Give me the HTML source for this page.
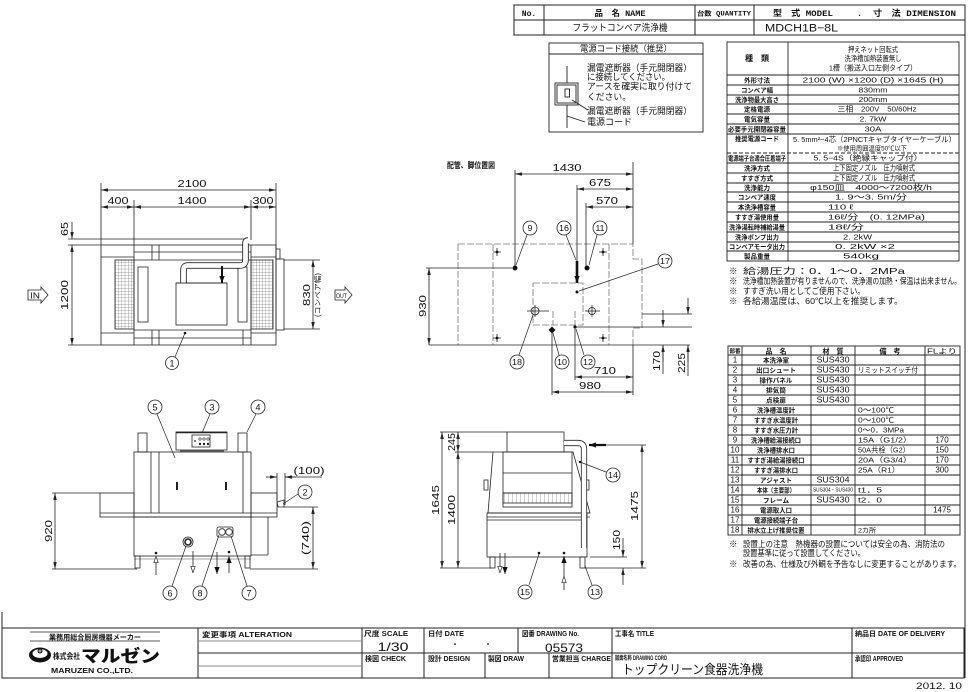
<!DOCTYPE html>
<html><head><meta charset="utf-8"><style>
html,body{margin:0;padding:0;background:#fff;}
svg{display:block;}
text{font-family:"Liberation Sans","Noto Sans CJK JP",sans-serif;fill:#111;}
.m{font-family:"Liberation Mono","Noto Sans CJK JP",monospace;font-weight:bold;}
.b{font-weight:bold;}
</style></head><body>
<svg width="969" height="692" viewBox="0 0 969 692" xmlns="http://www.w3.org/2000/svg">
<defs>
<marker id="a" viewBox="0 0 8 4" refX="8" refY="2" markerWidth="7" markerHeight="3.5" orient="auto-start-reverse" markerUnits="userSpaceOnUse"><path d="M0,0 L8,2 L0,4 Z" fill="#222"/></marker>
<marker id="f" viewBox="0 0 8 6" refX="8" refY="3" markerWidth="7" markerHeight="6" orient="auto" markerUnits="userSpaceOnUse"><path d="M0,0 L8,3 L0,6 Z" fill="#111"/></marker>
<marker id="h" viewBox="0 0 8 6" refX="8" refY="3" markerWidth="7" markerHeight="6" orient="auto" markerUnits="userSpaceOnUse"><path d="M0.5,0.5 L7.5,3 L0.5,5.5 Z" fill="#fff" stroke="#222" stroke-width="0.8"/></marker>
<pattern id="g" width="3.2" height="3.2" patternUnits="userSpaceOnUse"><path d="M0,0 H3.2 M0,0 V3.2" stroke="#444" stroke-width="0.5" fill="none"/></pattern>
<pattern id="g2" width="4" height="10" patternUnits="userSpaceOnUse"><path d="M0,0 V10" stroke="#444" stroke-width="0.5" fill="none"/></pattern>
</defs>

<!-- ========== FRAME ========== -->
<g fill="none" stroke="#222" stroke-width="1">
<line x1="965" y1="5" x2="965" y2="678"/>
<line x1="2" y1="612" x2="2" y2="678"/>
</g>

<!-- ========== HEADER ========== -->
<g fill="none" stroke="#222" stroke-width="1">
<rect x="514" y="5" width="451" height="30"/>
<line x1="514" y1="20" x2="965" y2="20"/>
<line x1="544" y1="5" x2="544" y2="35"/>
<line x1="695" y1="5" x2="695" y2="35"/>
<line x1="754" y1="5" x2="754" y2="35"/>
</g>
<text class="m" x="529" y="16" font-size="8" text-anchor="middle">No.</text>
<text class="m" x="620" y="16" font-size="8.5" text-anchor="middle">品　名 NAME</text>
<text class="m" x="724" y="15.5" font-size="6.5" text-anchor="middle" textLength="54" lengthAdjust="spacingAndGlyphs">台数 QUANTITY</text>
<text class="m" x="773" y="16" font-size="8.5" textLength="60" lengthAdjust="spacingAndGlyphs">型　式 MODEL</text>
<text class="m" x="857" y="16" font-size="8.5">.</text>
<text class="m" x="873" y="16" font-size="8.5" textLength="83" lengthAdjust="spacingAndGlyphs">寸　法 DIMENSION</text>
<text x="620" y="31" font-size="9.5" text-anchor="middle" textLength="95" lengthAdjust="spacingAndGlyphs">フラットコンベア洗浄機</text>
<text x="765" y="31.5" font-size="11" textLength="73" lengthAdjust="spacingAndGlyphs">MDCH1B−8L</text>

<!-- ========== POWER CORD BOX ========== -->
<g fill="none" stroke="#222" stroke-width="0.9">
<rect x="549" y="43" width="154" height="89"/>
<line x1="549" y1="54" x2="703" y2="54"/>
<line x1="567" y1="66" x2="567" y2="128"/>
<rect x="555" y="83" width="23" height="22" fill="#fff"/>
<rect x="557" y="85" width="19" height="18"/>
<rect x="565" y="89" width="4.5" height="8"/>
<line x1="572" y1="100" x2="588" y2="110"/>
<line x1="567" y1="116" x2="585" y2="122"/>
</g>
<text x="626" y="51.5" font-size="8.5" text-anchor="middle" textLength="92" lengthAdjust="spacingAndGlyphs">電源コード接続（推奨）</text>
<text x="587" y="71" font-size="9" textLength="105" lengthAdjust="spacingAndGlyphs">漏電遮断器（手元開閉器）</text>
<text x="587" y="80" font-size="9" textLength="83" lengthAdjust="spacingAndGlyphs">に接続してください。</text>
<text x="587" y="89.5" font-size="9" textLength="105" lengthAdjust="spacingAndGlyphs">アースを確実に取り付けて</text>
<text x="587" y="100" font-size="9" textLength="44" lengthAdjust="spacingAndGlyphs">ください。</text>
<text x="587" y="114" font-size="9" textLength="105" lengthAdjust="spacingAndGlyphs">漏電遮断器（手元開閉器）</text>
<text x="587" y="125" font-size="9" textLength="45" lengthAdjust="spacingAndGlyphs">電源コード</text>

<!-- ========== SPEC TABLE ========== -->
<g fill="none" stroke="#222" stroke-width="0.9">
<rect x="727" y="42" width="232" height="219"/>
<line x1="788" y1="42" x2="788" y2="261"/>
<line x1="727" y1="75" x2="959" y2="75"/>
<line x1="727" y1="85" x2="959" y2="85"/>
<line x1="727" y1="95" x2="959" y2="95"/>
<line x1="727" y1="104" x2="959" y2="104"/>
<line x1="727" y1="114" x2="959" y2="114"/>
<line x1="727" y1="124" x2="959" y2="124"/>
<line x1="727" y1="134" x2="959" y2="134"/>
<line x1="727" y1="153" x2="959" y2="153" stroke-dasharray="4,2"/>
<line x1="727" y1="163" x2="959" y2="163"/>
<line x1="727" y1="173" x2="959" y2="173"/>
<line x1="727" y1="183" x2="959" y2="183"/>
<line x1="727" y1="192" x2="959" y2="192"/>
<line x1="727" y1="202" x2="959" y2="202"/>
<line x1="727" y1="212" x2="959" y2="212"/>
<line x1="727" y1="222" x2="959" y2="222"/>
<line x1="727" y1="232" x2="959" y2="232"/>
<line x1="727" y1="242" x2="959" y2="242"/>
<line x1="727" y1="251" x2="959" y2="251"/>
</g>
<g font-size="6.5" font-weight="bold" text-anchor="middle">
<text x="757" y="61" font-size="8">種　類</text>
<text x="757" y="82.5" textLength="26" lengthAdjust="spacingAndGlyphs">外形寸法</text>
<text x="757" y="92.5" textLength="32" lengthAdjust="spacingAndGlyphs">コンベア幅</text>
<text x="757" y="102" textLength="44" lengthAdjust="spacingAndGlyphs">洗浄物最大高さ</text>
<text x="757" y="111.5" textLength="26" lengthAdjust="spacingAndGlyphs">定格電源</text>
<text x="757" y="121.5" textLength="26" lengthAdjust="spacingAndGlyphs">電気容量</text>
<text x="757" y="131.5" textLength="58" lengthAdjust="spacingAndGlyphs">必要手元開閉器容量</text>
<text x="757" y="141" textLength="44" lengthAdjust="spacingAndGlyphs">推奨電源コード</text>
<text x="757" y="160.5" textLength="58" lengthAdjust="spacingAndGlyphs">電源端子台適合圧着端子</text>
<text x="757" y="170.5" textLength="26" lengthAdjust="spacingAndGlyphs">洗浄方式</text>
<text x="757" y="180.5" textLength="32" lengthAdjust="spacingAndGlyphs">すすぎ方式</text>
<text x="757" y="190" textLength="26" lengthAdjust="spacingAndGlyphs">洗浄能力</text>
<text x="757" y="199.5" textLength="38" lengthAdjust="spacingAndGlyphs">コンベア速度</text>
<text x="757" y="209.5" textLength="38" lengthAdjust="spacingAndGlyphs">本洗浄槽容量</text>
<text x="757" y="219.5" textLength="44" lengthAdjust="spacingAndGlyphs">すすぎ湯使用量</text>
<text x="757" y="229.5" textLength="56" lengthAdjust="spacingAndGlyphs">洗浄湯転時補給湯量</text>
<text x="757" y="239.5" textLength="44" lengthAdjust="spacingAndGlyphs">洗浄ポンプ出力</text>
<text x="757" y="249" textLength="56" lengthAdjust="spacingAndGlyphs">コンベアモータ出力</text>
<text x="757" y="258.5" textLength="26" lengthAdjust="spacingAndGlyphs">製品重量</text>
</g>
<g font-size="7.5">
<text x="873" y="52" text-anchor="middle" textLength="50" lengthAdjust="spacingAndGlyphs">押えネット回転式</text>
<text x="873" y="61" text-anchor="middle" textLength="57" lengthAdjust="spacingAndGlyphs">洗浄槽加熱装置無し</text>
<text x="873" y="70.5" text-anchor="middle" textLength="88" lengthAdjust="spacingAndGlyphs">1槽（搬送入口左側タイプ）</text>
<text x="873" y="82.5" text-anchor="middle" textLength="141" lengthAdjust="spacingAndGlyphs">2100 (W) ×1200 (D) ×1645 (H)</text>
<text x="873" y="92.5" text-anchor="middle" textLength="29" lengthAdjust="spacingAndGlyphs">830mm</text>
<text x="873" y="102" text-anchor="middle" textLength="29" lengthAdjust="spacingAndGlyphs">200mm</text>
<text x="877" y="111.5" text-anchor="middle" textLength="79" lengthAdjust="spacingAndGlyphs">三相　200V　50/60Hz</text>
<text x="873" y="121.5" text-anchor="middle" textLength="27" lengthAdjust="spacingAndGlyphs">2. 7kW</text>
<text x="873" y="131.5" text-anchor="middle" textLength="17" lengthAdjust="spacingAndGlyphs">30A</text>
<text x="793" y="142" textLength="163" lengthAdjust="spacingAndGlyphs">5. 5mm²−4芯（2PNCTキャブタイヤーケーブル）</text>
<text x="872" y="150.5" text-anchor="middle" font-size="6.5" textLength="70" lengthAdjust="spacingAndGlyphs">※使用周囲温度50℃以下</text>
<text x="868" y="160.5" text-anchor="middle" textLength="109" lengthAdjust="spacingAndGlyphs">5. 5−4S（絶縁キャップ付）</text>
<text x="874" y="170.5" text-anchor="middle" textLength="82" lengthAdjust="spacingAndGlyphs">上下固定ノズル　圧力噴射式</text>
<text x="874" y="180.5" text-anchor="middle" textLength="82" lengthAdjust="spacingAndGlyphs">上下固定ノズル　圧力噴射式</text>
<text x="871" y="190" text-anchor="middle" textLength="122" lengthAdjust="spacingAndGlyphs">φ150皿　4000～7200枚/h</text>
<text x="871" y="199.5" text-anchor="middle" textLength="72" lengthAdjust="spacingAndGlyphs">1. 9～3. 5m/分</text>
<text x="828" y="209.5" textLength="25" lengthAdjust="spacingAndGlyphs">110 ℓ</text>
<text x="828" y="219.5" textLength="97" lengthAdjust="spacingAndGlyphs">16ℓ/分　(0. 12MPa)</text>
<text x="828" y="229.5" textLength="36" lengthAdjust="spacingAndGlyphs">18ℓ/分</text>
<text x="843" y="239.5" textLength="29" lengthAdjust="spacingAndGlyphs">2. 2kW</text>
<text x="835" y="249" textLength="60" lengthAdjust="spacingAndGlyphs">0. 2kW ×2</text>
<text x="843" y="258.5" textLength="36" lengthAdjust="spacingAndGlyphs">540kg</text>
</g>
<g font-size="8.5">
<text x="729" y="274">※</text><text x="743" y="274" textLength="162" lengthAdjust="spacingAndGlyphs">給湯圧力：0．1～0．2MPa</text>
<text x="729" y="284">※</text><text x="743" y="284" textLength="218" lengthAdjust="spacingAndGlyphs">洗浄槽加熱装置が有りませんので、洗浄湯の加熱・保温は出来ません。</text>
<text x="729" y="294">※</text><text x="743" y="294" textLength="122" lengthAdjust="spacingAndGlyphs">すすぎ洗い用としてご使用下さい。</text>
<text x="729" y="304">※</text><text x="743" y="304" textLength="160" lengthAdjust="spacingAndGlyphs">各給湯温度は、60℃以上を推奨します。</text>
</g>

<!-- ========== PARTS TABLE ========== -->
<g fill="none" stroke="#222" stroke-width="0.9">
<rect x="728" y="346" width="232" height="189"/>
<line x1="742" y1="346" x2="742" y2="535"/>
<line x1="811" y1="346" x2="811" y2="535"/>
<line x1="855" y1="346" x2="855" y2="535"/>
<line x1="925" y1="346" x2="925" y2="535"/>
<line x1="728" y1="355" x2="960" y2="355"/>
<line x1="728" y1="365" x2="960" y2="365"/>
<line x1="728" y1="375" x2="960" y2="375"/>
<line x1="728" y1="385" x2="960" y2="385"/>
<line x1="728" y1="395" x2="960" y2="395"/>
<line x1="728" y1="405" x2="960" y2="405"/>
<line x1="728" y1="415" x2="960" y2="415"/>
<line x1="728" y1="425" x2="960" y2="425"/>
<line x1="728" y1="435" x2="960" y2="435"/>
<line x1="728" y1="445" x2="960" y2="445"/>
<line x1="728" y1="455" x2="960" y2="455"/>
<line x1="728" y1="465" x2="960" y2="465"/>
<line x1="728" y1="475" x2="960" y2="475"/>
<line x1="728" y1="485" x2="960" y2="485"/>
<line x1="728" y1="495" x2="960" y2="495"/>
<line x1="728" y1="505" x2="960" y2="505"/>
<line x1="728" y1="515" x2="960" y2="515"/>
<line x1="728" y1="525" x2="960" y2="525"/>
</g>
<g font-size="7" text-anchor="middle">
<text x="735" y="353" font-size="5.5" font-weight="bold">部番</text>
<text x="776" y="353.5" font-weight="bold">品　名</text>
<text x="833" y="353.5" font-weight="bold">材　質</text>
<text x="890" y="353.5" font-weight="bold">備　考</text>
<text x="942" y="353.5" textLength="30" lengthAdjust="spacingAndGlyphs">FLより</text>
</g>
<g font-size="8" text-anchor="middle">
<text x="735" y="362.5">1</text><text x="735" y="372.5">2</text><text x="735" y="382.5">3</text><text x="735" y="392.5">4</text><text x="735" y="402.5">5</text><text x="735" y="412.5">6</text><text x="735" y="422.5">7</text><text x="735" y="432.5">8</text><text x="735" y="442.5">9</text><text x="735" y="452.5">10</text><text x="735" y="462.5">11</text><text x="735" y="472.5">12</text><text x="735" y="482.5">13</text><text x="735" y="492.5">14</text><text x="735" y="502.5">15</text><text x="735" y="512.5">16</text><text x="735" y="522.5">17</text><text x="735" y="532.5">18</text>
</g>
<g font-size="6.5" font-weight="bold" text-anchor="middle">
<text x="776" y="362.5" textLength="26" lengthAdjust="spacingAndGlyphs">本洗浄室</text>
<text x="776" y="372.5" textLength="40" lengthAdjust="spacingAndGlyphs">出口シュート</text>
<text x="776" y="382.5" textLength="33" lengthAdjust="spacingAndGlyphs">操作パネル</text>
<text x="776" y="392.5" textLength="20" lengthAdjust="spacingAndGlyphs">排気筒</text>
<text x="776" y="402.5" textLength="20" lengthAdjust="spacingAndGlyphs">点検扉</text>
<text x="776" y="412.5" textLength="38" lengthAdjust="spacingAndGlyphs">洗浄槽温度計</text>
<text x="776" y="422.5" textLength="44" lengthAdjust="spacingAndGlyphs">すすぎ水温度計</text>
<text x="776" y="432.5" textLength="44" lengthAdjust="spacingAndGlyphs">すすぎ水圧力計</text>
<text x="776" y="442.5" textLength="50" lengthAdjust="spacingAndGlyphs">洗浄槽給湯接続口</text>
<text x="776" y="452.5" textLength="38" lengthAdjust="spacingAndGlyphs">洗浄槽排水口</text>
<text x="776" y="462.5" textLength="57" lengthAdjust="spacingAndGlyphs">すすぎ湯給湯接続口</text>
<text x="776" y="472.5" textLength="44" lengthAdjust="spacingAndGlyphs">すすぎ湯排水口</text>
<text x="776" y="482.5" textLength="32" lengthAdjust="spacingAndGlyphs">アジャスト</text>
<text x="776" y="492.5" textLength="38" lengthAdjust="spacingAndGlyphs">本体（主要部）</text>
<text x="776" y="502.5" textLength="26" lengthAdjust="spacingAndGlyphs">フレーム</text>
<text x="776" y="512.5" textLength="32" lengthAdjust="spacingAndGlyphs">電源取入口</text>
<text x="776" y="522.5" textLength="44" lengthAdjust="spacingAndGlyphs">電源接続端子台</text>
<text x="776" y="532.5" textLength="57" lengthAdjust="spacingAndGlyphs">排水立上げ推奨位置</text>
</g>
<g font-size="8" text-anchor="middle">
<text x="833" y="362.5" textLength="33" lengthAdjust="spacingAndGlyphs">SUS430</text>
<text x="833" y="372.5" textLength="33" lengthAdjust="spacingAndGlyphs">SUS430</text>
<text x="833" y="382.5" textLength="33" lengthAdjust="spacingAndGlyphs">SUS430</text>
<text x="833" y="392.5" textLength="33" lengthAdjust="spacingAndGlyphs">SUS430</text>
<text x="833" y="402.5" textLength="33" lengthAdjust="spacingAndGlyphs">SUS430</text>
<text x="833" y="482.5" textLength="33" lengthAdjust="spacingAndGlyphs">SUS304</text>
<text x="833" y="491.5" font-size="5" textLength="40" lengthAdjust="spacingAndGlyphs">SUS304・SUS430</text>
<text x="833" y="502.5" textLength="33" lengthAdjust="spacingAndGlyphs">SUS430</text>
</g>
<g font-size="7.5">
<text x="858" y="372.5" textLength="60" lengthAdjust="spacingAndGlyphs">リミットスイッチ付</text>
<text x="858" y="412.5" textLength="36" lengthAdjust="spacingAndGlyphs">0～100℃</text>
<text x="858" y="422.5" textLength="36" lengthAdjust="spacingAndGlyphs">0～100℃</text>
<text x="858" y="432.5" textLength="46" lengthAdjust="spacingAndGlyphs">0～0．3MPa</text>
<text x="858" y="442.5" textLength="54" lengthAdjust="spacingAndGlyphs">15A（G1/2）</text>
<text x="858" y="452.5" textLength="52" lengthAdjust="spacingAndGlyphs">50A共栓（G2）</text>
<text x="858" y="462.5" textLength="54" lengthAdjust="spacingAndGlyphs">20A（G3/4）</text>
<text x="858" y="472.5" textLength="42" lengthAdjust="spacingAndGlyphs">25A（R1）</text>
<text x="858" y="492.5" textLength="24" lengthAdjust="spacingAndGlyphs">t1．5</text>
<text x="858" y="502.5" textLength="24" lengthAdjust="spacingAndGlyphs">t2．0</text>
<text x="858" y="532.5" font-size="6.5" textLength="18" lengthAdjust="spacingAndGlyphs">2カ所</text>
</g>
<g font-size="8" text-anchor="middle">
<text x="942" y="442.5">170</text><text x="942" y="452.5">150</text><text x="942" y="462.5">170</text><text x="942" y="472.5">300</text><text x="942" y="512.5">1475</text>
</g>
<g font-size="8.5">
<text x="729" y="547">※</text><text x="743" y="547" textLength="202" lengthAdjust="spacingAndGlyphs">設置上の注意　熱機器の設置については安全の為、消防法の</text>
<text x="743" y="556" textLength="122" lengthAdjust="spacingAndGlyphs">設置基準に従って設置してください。</text>
<text x="729" y="567">※</text><text x="743" y="567" textLength="218" lengthAdjust="spacingAndGlyphs">改善の為、仕様及び外観を予告なしに変更することがあります。</text>
</g>

<!-- ========== FIG A : TOP VIEW ========== -->
<g fill="none" stroke="#222" stroke-width="0.8">
<line x1="101" y1="190" x2="276" y2="190" marker-start="url(#a)" marker-end="url(#a)"/>
<line x1="101" y1="207" x2="134" y2="207" marker-start="url(#a)" marker-end="url(#a)"/>
<line x1="134" y1="207" x2="251" y2="207" marker-start="url(#a)" marker-end="url(#a)"/>
<line x1="251" y1="207" x2="276" y2="207" marker-start="url(#a)" marker-end="url(#a)"/>
<line x1="101" y1="183" x2="101" y2="245"/>
<line x1="276" y1="183" x2="276" y2="249"/>
<line x1="134" y1="200" x2="134" y2="245"/>
<line x1="251" y1="200" x2="251" y2="240"/>
<line x1="68" y1="239" x2="246" y2="239"/>
<line x1="68" y1="245" x2="101" y2="245"/>
<line x1="68" y1="345" x2="101" y2="345"/>
<line x1="72" y1="222" x2="72" y2="239" marker-end="url(#a)"/>
<line x1="72" y1="245" x2="72" y2="345" marker-start="url(#a)" marker-end="url(#a)"/>
<rect x="101" y="245" width="175" height="100"/>
<line x1="134" y1="245" x2="134" y2="345"/>
<line x1="251" y1="245" x2="251" y2="345"/>
<line x1="134" y1="252" x2="251" y2="252"/>
<line x1="134" y1="260" x2="251" y2="260"/>
<line x1="134" y1="330" x2="251" y2="330"/>
<line x1="134" y1="338" x2="251" y2="338"/>
<line x1="152" y1="245" x2="152" y2="260"/><line x1="159" y1="245" x2="159" y2="260"/><line x1="243" y1="245" x2="243" y2="260"/>
<line x1="152" y1="330" x2="152" y2="345"/><line x1="159" y1="330" x2="159" y2="345"/><line x1="243" y1="330" x2="243" y2="345"/>
<line x1="101" y1="257" x2="134" y2="257"/>
<line x1="101" y1="333" x2="134" y2="333"/>
<line x1="251" y1="257" x2="276" y2="257"/>
<line x1="251" y1="333" x2="276" y2="333"/>
<rect x="276" y="249" width="4" height="10"/>
<rect x="276" y="259" width="8" height="71"/>
<rect x="115" y="260" width="19" height="69" fill="url(#g)"/>
<rect x="251" y="260" width="22" height="69" fill="url(#g)"/>
<rect x="138" y="267" width="10" height="55"/>
<rect x="238" y="267" width="9" height="55"/>
<rect x="176" y="283" width="51" height="42" fill="#fff"/>
</g>
<path d="M183.5,283 V270 Q183.5,265.5 188,265.5 H240 Q245.5,265.5 245.5,260 V243 Q245.5,240.5 248,240.5" fill="none" stroke="#222" stroke-width="6.5"/>
<path d="M183.5,283 V270 Q183.5,265.5 188,265.5 H240 Q245.5,265.5 245.5,260 V243 Q245.5,240.5 248,240.5" fill="none" stroke="#fff" stroke-width="4.8"/>
<line x1="176" y1="283" x2="227" y2="283" stroke="#222" stroke-width="0.8"/>
<line x1="222" y1="266" x2="222" y2="283" stroke="#111" stroke-width="2" marker-end="url(#f)"/>
<circle cx="185" cy="333" r="1.3" fill="#111"/>
<line x1="185" y1="333" x2="175" y2="357" stroke="#222" stroke-width="0.7"/>
<circle cx="172" cy="363" r="6.5" fill="#fff" stroke="#222" stroke-width="0.8"/>
<text x="172" y="366.5" font-size="9" text-anchor="middle">1</text>
<path d="M28,290 H41 V287 L48,295 L41,303 V300 H28 Z" fill="none" stroke="#222" stroke-width="0.8"/>
<text x="30" y="298.5" font-size="8" textLength="10" lengthAdjust="spacingAndGlyphs">IN</text>
<path d="M335,290 H345 V287 L352,295 L345,303 V300 H335 Z" fill="none" stroke="#222" stroke-width="0.8"/>
<text x="336" y="298" font-size="6.5" textLength="11" lengthAdjust="spacingAndGlyphs">OUT</text>
<g fill="none" stroke="#222" stroke-width="0.8">
<line x1="284" y1="260" x2="320" y2="260"/>
<line x1="284" y1="329" x2="320" y2="329"/>
<line x1="313" y1="260" x2="313" y2="329" marker-start="url(#a)" marker-end="url(#a)"/>
</g>
<g font-size="10.5" text-anchor="middle">
<text x="192" y="187" textLength="29" lengthAdjust="spacingAndGlyphs">2100</text>
<text x="118" y="204" textLength="21" lengthAdjust="spacingAndGlyphs">400</text>
<text x="192" y="204" textLength="29" lengthAdjust="spacingAndGlyphs">1400</text>
<text x="263" y="204" textLength="21" lengthAdjust="spacingAndGlyphs">300</text>
<text transform="translate(68,229) rotate(-90)" textLength="14" lengthAdjust="spacingAndGlyphs">65</text>
<text transform="translate(68,295) rotate(-90)" textLength="30" lengthAdjust="spacingAndGlyphs">1200</text>
<text transform="translate(310,295) rotate(-90)" textLength="22" lengthAdjust="spacingAndGlyphs">830</text>
<text transform="translate(320,295) rotate(-90)" font-size="7" textLength="44" lengthAdjust="spacingAndGlyphs">(コンベア幅)</text>
</g>

<!-- ========== FIG B : FRONT ELEVATION ========== -->
<g fill="none" stroke="#222" stroke-width="0.8">
<rect x="176" y="432" width="51" height="18"/>
<line x1="176" y1="432.5" x2="227" y2="432.5" stroke-width="1.6"/>
<rect x="192" y="435" width="18" height="12"/>
<line x1="180" y1="451" x2="224" y2="451"/>
<rect x="138" y="433" width="9" height="19"/>
<rect x="238" y="433" width="9" height="19"/>
<rect x="134" y="452" width="117" height="65"/>
<line x1="151" y1="452" x2="151" y2="513"/>
<line x1="159" y1="452" x2="159" y2="513"/>
<line x1="243" y1="452" x2="243" y2="513"/>
<rect x="100" y="493" width="34" height="24"/>
<rect x="251" y="493" width="26" height="24"/>
<line x1="100" y1="513" x2="277" y2="513"/>
<rect x="134" y="517" width="117" height="39"/>
<line x1="268" y1="517" x2="268" y2="555"/>
<line x1="251" y1="555" x2="268" y2="555"/>
<line x1="134" y1="559" x2="251" y2="559" stroke="#888"/>
<path d="M277,502 L284,500 L284,507 L278,507 Z"/>
<rect x="135" y="556" width="5" height="12"/>
<rect x="245" y="556" width="5" height="12"/>
<circle cx="188" cy="542" r="5"/>
<circle cx="188" cy="542" r="3" stroke-width="1.6"/>
<rect x="217" y="527" width="16" height="10" rx="2"/>
<circle cx="222" cy="532" r="3.3"/>
<circle cx="229" cy="532" r="3.3"/>
<line x1="55" y1="493" x2="55" y2="569" marker-start="url(#a)" marker-end="url(#a)"/>
<line x1="52" y1="493" x2="100" y2="493"/>
<line x1="52" y1="569" x2="137" y2="569"/>
<line x1="313" y1="507" x2="313" y2="569" marker-start="url(#a)" marker-end="url(#a)"/>
<line x1="283" y1="507" x2="318" y2="507"/>
<line x1="250" y1="569" x2="318" y2="569"/>
<line x1="277" y1="473" x2="277" y2="500"/>
<line x1="285" y1="473" x2="285" y2="505"/>
<line x1="266" y1="477" x2="277" y2="477" marker-end="url(#a)"/>
<line x1="296" y1="477" x2="285" y2="477" marker-end="url(#a)"/>
<line x1="285" y1="477" x2="322" y2="477"/>
</g>
<rect x="176" y="482" width="2" height="8" fill="#222"/>
<rect x="225" y="482" width="2" height="8" fill="#222"/>
<g fill="#222">
<circle cx="195" cy="441" r="0.9"/>
<circle cx="200" cy="439" r="1.2" fill="none" stroke="#222" stroke-width="0.6"/><circle cx="204" cy="439" r="1.2" fill="none" stroke="#222" stroke-width="0.6"/><circle cx="208" cy="439" r="1.2" fill="none" stroke="#222" stroke-width="0.6"/>
<circle cx="200" cy="444" r="1.2"/><circle cx="204" cy="444" r="1.2"/><circle cx="208" cy="444" r="1.2"/>
</g>
<g stroke="#222" stroke-width="0.8" fill="none">
<line x1="156" y1="575" x2="156" y2="556" marker-end="url(#h)"/>
<line x1="193" y1="551" x2="193" y2="573" marker-end="url(#h)"/>
<line x1="217" y1="552" x2="217" y2="574" marker-end="url(#f)"/>
<line x1="229" y1="573" x2="229" y2="556" marker-end="url(#f)"/>
</g>
<circle cx="156" cy="553" r="1.3" fill="#111"/>
<circle cx="229" cy="552" r="1.3" fill="#111"/>
<g stroke="#222" stroke-width="0.7">
<line x1="157" y1="414" x2="175" y2="458"/>
<line x1="210" y1="414" x2="202" y2="433"/>
<line x1="256" y1="414" x2="247" y2="432"/>
<line x1="298" y1="494" x2="283" y2="504"/>
<line x1="172" y1="586" x2="186" y2="546"/>
<line x1="202" y1="586" x2="219" y2="535"/>
<line x1="247" y1="586" x2="231" y2="536"/>
</g>
<g fill="#fff" stroke="#222" stroke-width="0.8">
<circle cx="155" cy="407" r="7"/><circle cx="212" cy="407" r="7"/><circle cx="258" cy="407" r="7"/>
<circle cx="305" cy="492" r="7"/>
<circle cx="170" cy="593" r="7"/><circle cx="200" cy="593" r="7"/><circle cx="249" cy="593" r="7"/>
</g>
<g font-size="9" text-anchor="middle">
<text x="155" y="410.5">5</text><text x="212" y="410.5">3</text><text x="258" y="410.5">4</text>
<text x="305" y="495.5">2</text>
<text x="170" y="596.5">6</text><text x="200" y="596.5">8</text><text x="249" y="596.5">7</text>
</g>
<g font-size="10.5" text-anchor="middle">
<text transform="translate(52,531) rotate(-90)" textLength="22" lengthAdjust="spacingAndGlyphs">920</text>
<text transform="translate(309,538) rotate(-90)" textLength="34" lengthAdjust="spacingAndGlyphs">(740)</text>
<text x="309" y="474" textLength="31" lengthAdjust="spacingAndGlyphs">(100)</text>
</g>

<!-- ========== FIG C : PIPING / LEG POSITION ========== -->
<text x="447" y="168" font-size="8" font-weight="bold" textLength="48" lengthAdjust="spacingAndGlyphs">配管、脚位置図</text>
<g fill="none" stroke="#777" stroke-width="0.8" stroke-dasharray="7,2">
<path d="M458,244 H633 V259 H642 V328 H633 V345"/>
<line x1="458" y1="244" x2="458" y2="345"/>
<line x1="493" y1="244" x2="493" y2="345"/>
<line x1="609" y1="244" x2="609" y2="345"/>
<rect x="533" y="283" width="50" height="42"/>
<line x1="553" y1="311" x2="553" y2="325"/>
<line x1="575" y1="311" x2="575" y2="325"/>
</g>
<g fill="none" stroke="#222" stroke-width="0.8">
<line x1="429" y1="345" x2="690" y2="345"/>
<line x1="515" y1="170" x2="515" y2="268"/>
<line x1="577" y1="185" x2="577" y2="262"/>
<line x1="586" y1="203" x2="586" y2="268"/>
<line x1="633" y1="162" x2="633" y2="244"/>
<line x1="515" y1="174" x2="633" y2="174" marker-start="url(#a)" marker-end="url(#a)"/>
<line x1="577" y1="189" x2="633" y2="189" marker-start="url(#a)" marker-end="url(#a)"/>
<line x1="586" y1="207" x2="633" y2="207" marker-start="url(#a)" marker-end="url(#a)"/>
<line x1="426" y1="268" x2="512" y2="268"/>
<line x1="429" y1="268" x2="429" y2="345" marker-start="url(#a)" marker-end="url(#a)"/>
<line x1="575" y1="327" x2="692" y2="327"/>
<line x1="642" y1="314" x2="692" y2="314"/>
<line x1="663" y1="310" x2="663" y2="327" marker-end="url(#a)"/>
<line x1="663" y1="362" x2="663" y2="345" marker-end="url(#a)"/>
<line x1="663" y1="345" x2="663" y2="374"/>
<line x1="688" y1="298" x2="688" y2="314" marker-end="url(#a)"/>
<line x1="688" y1="362" x2="688" y2="345" marker-end="url(#a)"/>
<line x1="688" y1="345" x2="688" y2="376"/>
<line x1="633" y1="345" x2="633" y2="395"/>
<line x1="575" y1="329" x2="575" y2="380"/>
<line x1="552" y1="333" x2="552" y2="395"/>
<line x1="575" y1="377" x2="633" y2="377" marker-start="url(#a)" marker-end="url(#a)"/>
<line x1="552" y1="392" x2="633" y2="392" marker-start="url(#a)" marker-end="url(#a)"/>
<path d="M493,252 H501 M497,248 V256 M599,252 H607 M603,248 V256 M493,338 H501 M497,334 V342 M599,338 H607 M603,334 V342"/>
<circle cx="535" cy="311" r="4"/>
<line x1="527" y1="311" x2="549" y2="311"/>
<line x1="535" y1="305" x2="535" y2="317"/>
<circle cx="592" cy="311" r="3.5"/>
<line x1="585" y1="311" x2="600" y2="311"/>
<line x1="592" y1="305" x2="592" y2="317"/>
</g>
<g fill="#111">
<circle cx="497" cy="252" r="1.4"/><circle cx="603" cy="252" r="1.4"/><circle cx="497" cy="338" r="1.4"/><circle cx="603" cy="338" r="1.4"/>
<circle cx="515" cy="268" r="2.5"/><circle cx="587" cy="268" r="2.5"/>
<circle cx="577" cy="292" r="1.5"/><circle cx="575" cy="327" r="1.6"/>
<rect x="549.5" y="327.5" width="5" height="5" transform="rotate(45 552 330)"/>
</g>
<line x1="577" y1="261" x2="577" y2="283" stroke="#111" stroke-width="2.6" marker-end="url(#f)"/>
<g stroke="#222" stroke-width="0.7">
<line x1="527" y1="235" x2="516" y2="265"/>
<line x1="566" y1="235" x2="576" y2="260"/>
<line x1="597" y1="235" x2="589" y2="265"/>
<line x1="658" y1="264" x2="579" y2="291"/>
<line x1="519" y1="355" x2="533" y2="315"/>
<line x1="559" y1="355" x2="553" y2="333"/>
<line x1="584" y1="355" x2="576" y2="329"/>
</g>
<g fill="#fff" stroke="#222" stroke-width="0.8">
<circle cx="530" cy="228" r="7"/><circle cx="564" cy="228" r="7"/><circle cx="600" cy="228" r="7"/>
<circle cx="665" cy="261" r="7"/>
<circle cx="517" cy="362" r="7"/><circle cx="562" cy="362" r="7"/><circle cx="588" cy="362" r="7"/>
</g>
<g font-size="8.5" text-anchor="middle">
<text x="530" y="231">9</text><text x="564" y="231" textLength="10" lengthAdjust="spacingAndGlyphs">16</text><text x="600" y="231" textLength="9" lengthAdjust="spacingAndGlyphs">11</text>
<text x="665" y="264" textLength="10" lengthAdjust="spacingAndGlyphs">17</text>
<text x="517" y="365" textLength="10" lengthAdjust="spacingAndGlyphs">18</text><text x="562" y="365" textLength="10" lengthAdjust="spacingAndGlyphs">10</text><text x="588" y="365" textLength="10" lengthAdjust="spacingAndGlyphs">12</text>
</g>
<g font-size="10.5" text-anchor="middle">
<text x="567" y="171" textLength="29" lengthAdjust="spacingAndGlyphs">1430</text>
<text x="600" y="186" textLength="22" lengthAdjust="spacingAndGlyphs">675</text>
<text x="607" y="204" textLength="22" lengthAdjust="spacingAndGlyphs">570</text>
<text transform="translate(426,306) rotate(-90)" textLength="22" lengthAdjust="spacingAndGlyphs">930</text>
<text transform="translate(660,361) rotate(-90)" textLength="20" lengthAdjust="spacingAndGlyphs">170</text>
<text transform="translate(685,363) rotate(-90)" textLength="20" lengthAdjust="spacingAndGlyphs">225</text>
<text x="605" y="374" textLength="22" lengthAdjust="spacingAndGlyphs">710</text>
<text x="590" y="389" textLength="22" lengthAdjust="spacingAndGlyphs">980</text>
</g>

<!-- ========== FIG D : SIDE VIEW ========== -->
<g fill="none" stroke="#222" stroke-width="0.8">
<line x1="440" y1="432" x2="507" y2="432"/>
<line x1="455" y1="452" x2="493" y2="452"/>
<line x1="440" y1="568" x2="492" y2="568"/>
<line x1="442" y1="432" x2="442" y2="568" marker-start="url(#a)" marker-end="url(#a)"/>
<line x1="458" y1="432" x2="458" y2="452" marker-start="url(#a)" marker-end="url(#a)"/>
<line x1="458" y1="452" x2="458" y2="568" marker-start="url(#a)" marker-end="url(#a)"/>
<line x1="605" y1="445" x2="646" y2="445"/>
<line x1="585" y1="568" x2="646" y2="568"/>
<line x1="642" y1="445" x2="642" y2="568" marker-start="url(#a)" marker-end="url(#a)"/>
<line x1="590" y1="557" x2="627" y2="557"/>
<line x1="623" y1="538" x2="623" y2="557" marker-end="url(#a)"/>
<line x1="623" y1="585" x2="623" y2="568" marker-end="url(#a)"/>
<rect x="507" y="432" width="57" height="20"/>
<path d="M493,452 H573 L590,513 H488 Z" fill="#fff"/>
<rect x="503" y="452" width="69" height="55"/>
<line x1="503" y1="473" x2="572" y2="473"/>
<line x1="503" y1="493" x2="572" y2="493"/>
<rect x="503" y="493" width="69" height="10" fill="url(#g2)"/>
<line x1="487" y1="513" x2="590" y2="513"/>
<line x1="487" y1="517" x2="590" y2="517"/>
<rect x="487" y="513" width="100" height="44" fill="none"/>
<line x1="487" y1="520" x2="587" y2="520"/>
<rect x="484" y="480" width="4" height="10"/>
<rect x="585" y="480" width="4" height="10"/>
<rect x="490" y="557" width="5" height="11"/>
<rect x="580" y="557" width="5" height="11"/>
</g>
<path d="M564,443 H578 Q584,443 584,449 V548" fill="none" stroke="#222" stroke-width="6.2"/>
<path d="M564,443 H578 Q584,443 584,449 V548" fill="none" stroke="#fff" stroke-width="4.6"/>
<line x1="606" y1="445" x2="589" y2="445" stroke="#111" stroke-width="2.2" marker-end="url(#f)"/>
<g stroke="#222" stroke-width="0.8" fill="none">
<line x1="500" y1="553" x2="500" y2="573" marker-end="url(#h)"/>
<line x1="505" y1="553" x2="505" y2="574" marker-end="url(#f)"/>
<line x1="564" y1="590" x2="564" y2="576" marker-end="url(#h)"/>
<line x1="564" y1="576" x2="564" y2="556" marker-end="url(#f)"/>
</g>
<circle cx="564" cy="553" r="1.3" fill="#111"/>
<circle cx="539" cy="553" r="1.3" fill="#111"/>
<circle cx="580" cy="462" r="1.2" fill="#111"/>
<g stroke="#222" stroke-width="0.7">
<line x1="580" y1="462" x2="606" y2="472"/>
<line x1="529" y1="585" x2="539" y2="554"/>
<line x1="592" y1="585" x2="585" y2="566"/>
</g>
<g fill="#fff" stroke="#222" stroke-width="0.8">
<circle cx="613" cy="475" r="7"/><circle cx="525" cy="592" r="7"/><circle cx="595" cy="592" r="7"/>
</g>
<g font-size="8.5" text-anchor="middle">
<text x="613" y="478" textLength="10" lengthAdjust="spacingAndGlyphs">14</text>
<text x="525" y="595" textLength="10" lengthAdjust="spacingAndGlyphs">15</text>
<text x="595" y="595" textLength="10" lengthAdjust="spacingAndGlyphs">13</text>
</g>
<g font-size="10.5" text-anchor="middle">
<text transform="translate(439,500) rotate(-90)" textLength="30" lengthAdjust="spacingAndGlyphs">1645</text>
<text transform="translate(455,510) rotate(-90)" textLength="30" lengthAdjust="spacingAndGlyphs">1400</text>
<text transform="translate(455,442) rotate(-90)" textLength="18" lengthAdjust="spacingAndGlyphs">245</text>
<text transform="translate(638,506) rotate(-90)" textLength="30" lengthAdjust="spacingAndGlyphs">1475</text>
<text transform="translate(620,540) rotate(-90)" textLength="20" lengthAdjust="spacingAndGlyphs">150</text>
</g>

<!-- ========== TITLE BLOCK ========== -->
<g fill="none" stroke="#222" stroke-width="1">
<rect x="2" y="628" width="962" height="50"/>
<line x1="198" y1="628" x2="198" y2="678"/>
<line x1="362" y1="628" x2="362" y2="678"/>
<line x1="424" y1="628" x2="424" y2="678"/>
<line x1="518" y1="628" x2="518" y2="653"/>
<line x1="485" y1="653" x2="485" y2="678"/>
<line x1="549" y1="653" x2="549" y2="678"/>
<line x1="612" y1="628" x2="612" y2="678"/>
<line x1="852" y1="628" x2="852" y2="678"/>
<line x1="198" y1="653" x2="964" y2="653"/>
<line x1="198" y1="641" x2="362" y2="641" stroke="#888"/>
<line x1="198" y1="666" x2="362" y2="666" stroke="#888"/>
<line x1="30" y1="632" x2="160" y2="632" stroke-width="0.8"/>
<line x1="30" y1="641" x2="160" y2="641" stroke-width="0.8"/>
</g>
<text x="95" y="639.5" font-size="7" font-weight="bold" text-anchor="middle" textLength="92" lengthAdjust="spacingAndGlyphs">業務用総合厨房機器メーカー</text>
<ellipse cx="40" cy="655" rx="11" ry="7.5" fill="#111"/>
<ellipse cx="40" cy="653.5" rx="7.5" ry="4.5" fill="#fff"/>
<circle cx="40" cy="651" r="2.5" fill="#111"/>
<path d="M40,649.5 V652.5 M38.5,651 H41.5" stroke="#fff" stroke-width="0.8"/>
<text x="53" y="659" font-size="8" font-weight="bold" textLength="27" lengthAdjust="spacingAndGlyphs">株式会社</text>
<text x="81" y="662" font-size="17" font-weight="900" textLength="79" lengthAdjust="spacingAndGlyphs">マルゼン</text>
<text x="92" y="673" font-size="7.5" font-weight="bold" text-anchor="middle" textLength="82" lengthAdjust="spacingAndGlyphs">MARUZEN  CO.,LTD.</text>
<g class="m" font-size="7">
<text x="202" y="637" textLength="90" lengthAdjust="spacingAndGlyphs">変更事項 ALTERATION</text>
<text x="364" y="636" textLength="44" lengthAdjust="spacingAndGlyphs">尺度 SCALE</text>
<text x="428" y="636" textLength="36" lengthAdjust="spacingAndGlyphs">日付 DATE</text>
<text x="522" y="636" textLength="57" lengthAdjust="spacingAndGlyphs">図番 DRAWING No.</text>
<text x="615" y="636" textLength="39" lengthAdjust="spacingAndGlyphs">工事名 TITLE</text>
<text x="855" y="636" textLength="90" lengthAdjust="spacingAndGlyphs">納品日 DATE OF DELIVERY</text>
<text x="365" y="661" textLength="41" lengthAdjust="spacingAndGlyphs">検図 CHECK</text>
<text x="428" y="661" textLength="42" lengthAdjust="spacingAndGlyphs">設計 DESIGN</text>
<text x="488" y="661" textLength="36" lengthAdjust="spacingAndGlyphs">製図 DRAW</text>
<text x="552" y="661" textLength="59" lengthAdjust="spacingAndGlyphs">営業担当 CHARGE</text>
<text x="615" y="660" font-size="6" textLength="52" lengthAdjust="spacingAndGlyphs">図面名称 DRAWING CORD</text>
<text x="855" y="661" textLength="48" lengthAdjust="spacingAndGlyphs">承認印 APPROVED</text>
</g>
<text x="455" y="647" font-size="8" text-anchor="middle">・</text>
<text x="488" y="647" font-size="8" text-anchor="middle">・</text>
<text x="393" y="651" font-size="12" text-anchor="middle" textLength="31" lengthAdjust="spacingAndGlyphs">1/30</text>
<text x="564" y="652" font-size="12" text-anchor="middle" textLength="38" lengthAdjust="spacingAndGlyphs">05573</text>
<text x="622" y="674" font-size="13" textLength="141" lengthAdjust="spacingAndGlyphs">トップクリーン食器洗浄機</text>
<text x="916" y="689" font-size="9.5" textLength="46" lengthAdjust="spacingAndGlyphs">2012. 10</text>
</svg>
</body></html>
